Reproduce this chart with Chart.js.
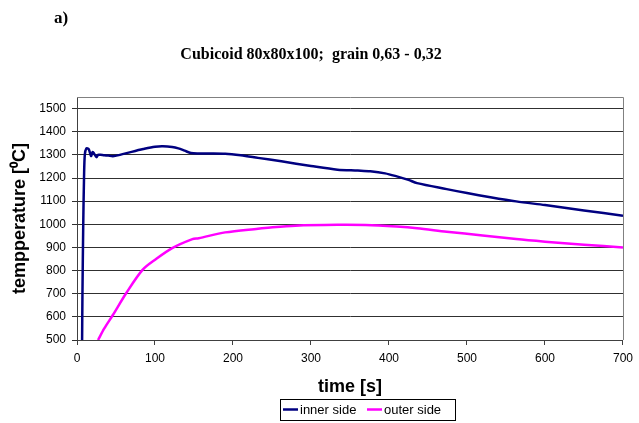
<!DOCTYPE html>
<html>
<head>
<meta charset="utf-8">
<script src="https://cdn.jsdelivr.net/npm/chart.js@4/dist/chart.umd.min.js"></script>
<style>
  html, body { margin: 0; padding: 0; background: #fff; }
  #wrap { width: 639px; height: 423px; }
</style>
</head>
<body>
<div id="wrap"><canvas id="tempChart" width="639" height="423"></canvas></div>
<script>
// time [s] and temperature [C] for both sides of the cubicoid
const innerTime = [6.5, 7, 8, 9, 10, 12, 15, 18, 20, 22, 25, 27, 30, 35, 40, 46, 55, 70, 85, 100, 110, 122, 130, 138, 146, 156, 170, 190, 210, 232, 262, 300, 334, 360, 376, 395, 410, 425, 436, 474, 500, 530, 563, 600, 650, 700];
const innerTemp = [480, 700, 1000, 1200, 1300, 1328, 1325, 1295, 1312, 1305, 1290, 1300, 1300, 1298, 1297, 1294, 1300, 1313, 1325, 1335, 1337, 1334, 1328, 1318, 1308, 1306, 1306, 1305, 1298, 1287, 1272, 1252, 1236, 1232, 1229, 1220, 1207, 1192, 1178, 1152, 1135, 1117, 1099, 1083, 1060, 1037];

const outerTime = [27, 35, 46, 63, 84, 101, 122, 148, 156, 190, 232, 241, 280, 334, 370, 410, 436, 474, 520, 563, 600, 650, 700];
const outerTemp = [500, 550, 608, 702, 803, 849, 897, 936, 940, 965, 981, 984, 994, 998, 997, 990, 983, 968, 952, 936, 925, 912, 900];

const yTicks = [500, 600, 700, 800, 900, 1000, 1100, 1200, 1300, 1400, 1500];

const seriesNames = ['inner side', 'outer side'];
const seriesColors = ['#000080', '#ff00ff'];

const toPoints = (xs, ys) => xs.map((x, i) => ({ x: x, y: ys[i] }));

// heading, plot frame and boxed legend
const extras = {
    id: 'extras',
    afterDraw(chart) {
        const ctx = chart.ctx;
        const area = chart.chartArea;
        ctx.save();

        ctx.fillStyle = '#000';
        ctx.font = 'bold 17px "Liberation Serif"';
        ctx.textBaseline = 'middle';
        ctx.textAlign = 'left';
        ctx.fillText('a)', 54, 19);

        ctx.font = 'bold 16px "Liberation Serif"';
        ctx.textAlign = 'center';
        ctx.fillText('Cubicoid 80x80x100;  grain 0,63 - 0,32', 311, 55);

        // top and right edge of the plot area
        ctx.strokeStyle = '#808080';
        ctx.lineWidth = 1;
        ctx.beginPath();
        ctx.moveTo(area.left, area.top + 0.5);
        ctx.lineTo(area.right + 0.5, area.top + 0.5);
        ctx.lineTo(area.right + 0.5, area.bottom);
        ctx.stroke();

        // legend
        const lx = 280, ly = 399, lw = 175, lh = 21;
        ctx.strokeStyle = '#000';
        ctx.strokeRect(lx + 0.5, ly + 0.5, lw, lh);
        ctx.font = '13px "Liberation Sans"';
        ctx.textAlign = 'left';
        const starts = [283, 367];
        starts.forEach((x, i) => {
            ctx.strokeStyle = seriesColors[i];
            ctx.lineWidth = 2.5;
            ctx.beginPath();
            ctx.moveTo(x, ly + 10.5);
            ctx.lineTo(x + 15, ly + 10.5);
            ctx.stroke();
            ctx.fillStyle = '#000';
            ctx.fillText(seriesNames[i], x + 17, ly + 11);
        });
        ctx.restore();
    }
};

const ctx = document.getElementById('tempChart').getContext('2d');

new Chart(ctx, {
    type: 'scatter',
    data: {
        datasets: [{
            label: seriesNames[0],
            data: toPoints(innerTime, innerTemp),
            showLine: true,
            borderColor: seriesColors[0],
            borderWidth: 2.5,
            pointRadius: 0,
            tension: 0.3
        }, {
            label: seriesNames[1],
            data: toPoints(outerTime, outerTemp),
            showLine: true,
            borderColor: seriesColors[1],
            borderWidth: 2.5,
            pointRadius: 0,
            tension: 0.3
        }]
    },
    options: {
        responsive: false,
        animation: false,
        events: [],
        layout: {
            padding: { top: 97, left: 0, right: 11, bottom: 25 }
        },
        plugins: {
            legend: { display: false },
            tooltip: { enabled: false }
        },
        scales: {
            x: {
                type: 'linear',
                min: 0,
                max: 700,
                ticks: {
                    stepSize: 100,
                    color: '#000',
                    padding: 6,
                    font: { family: 'Liberation Sans', size: 12 },
                    callback: v => String(v)
                },
                grid: {
                    drawOnChartArea: false,
                    drawTicks: true,
                    tickLength: 5,
                    color: '#404040'
                },
                border: { color: '#404040', width: 1 },
                title: {
                    display: true,
                    text: 'time [s]',
                    color: '#000',
                    padding: { top: 0, bottom: 0 },
                    font: { family: 'Liberation Sans', size: 18, weight: 'bold' }
                },
                afterFit(scale) { scale.height = 58; }
            },
            y: {
                type: 'linear',
                min: 500,
                max: 1550,
                afterBuildTicks(scale) {
                    scale.ticks = yTicks.map(v => ({ value: v }));
                },
                ticks: {
                    color: '#000',
                    padding: 6,
                    font: { family: 'Liberation Sans', size: 12 },
                    callback: v => String(v)
                },
                grid: {
                    color: '#303030',
                    tickLength: 5
                },
                border: { color: '#404040', width: 1 },
                title: {
                    display: true,
                    text: 'tempperature [⁰C]',
                    color: '#000',
                    padding: { top: 9, bottom: 0 },
                    font: { family: 'Liberation Sans', size: 18, weight: 'bold' }
                },
                afterFit(scale) { scale.width = 77; }
            }
        }
    },
    plugins: [extras]
});
</script>
</body>
</html>
